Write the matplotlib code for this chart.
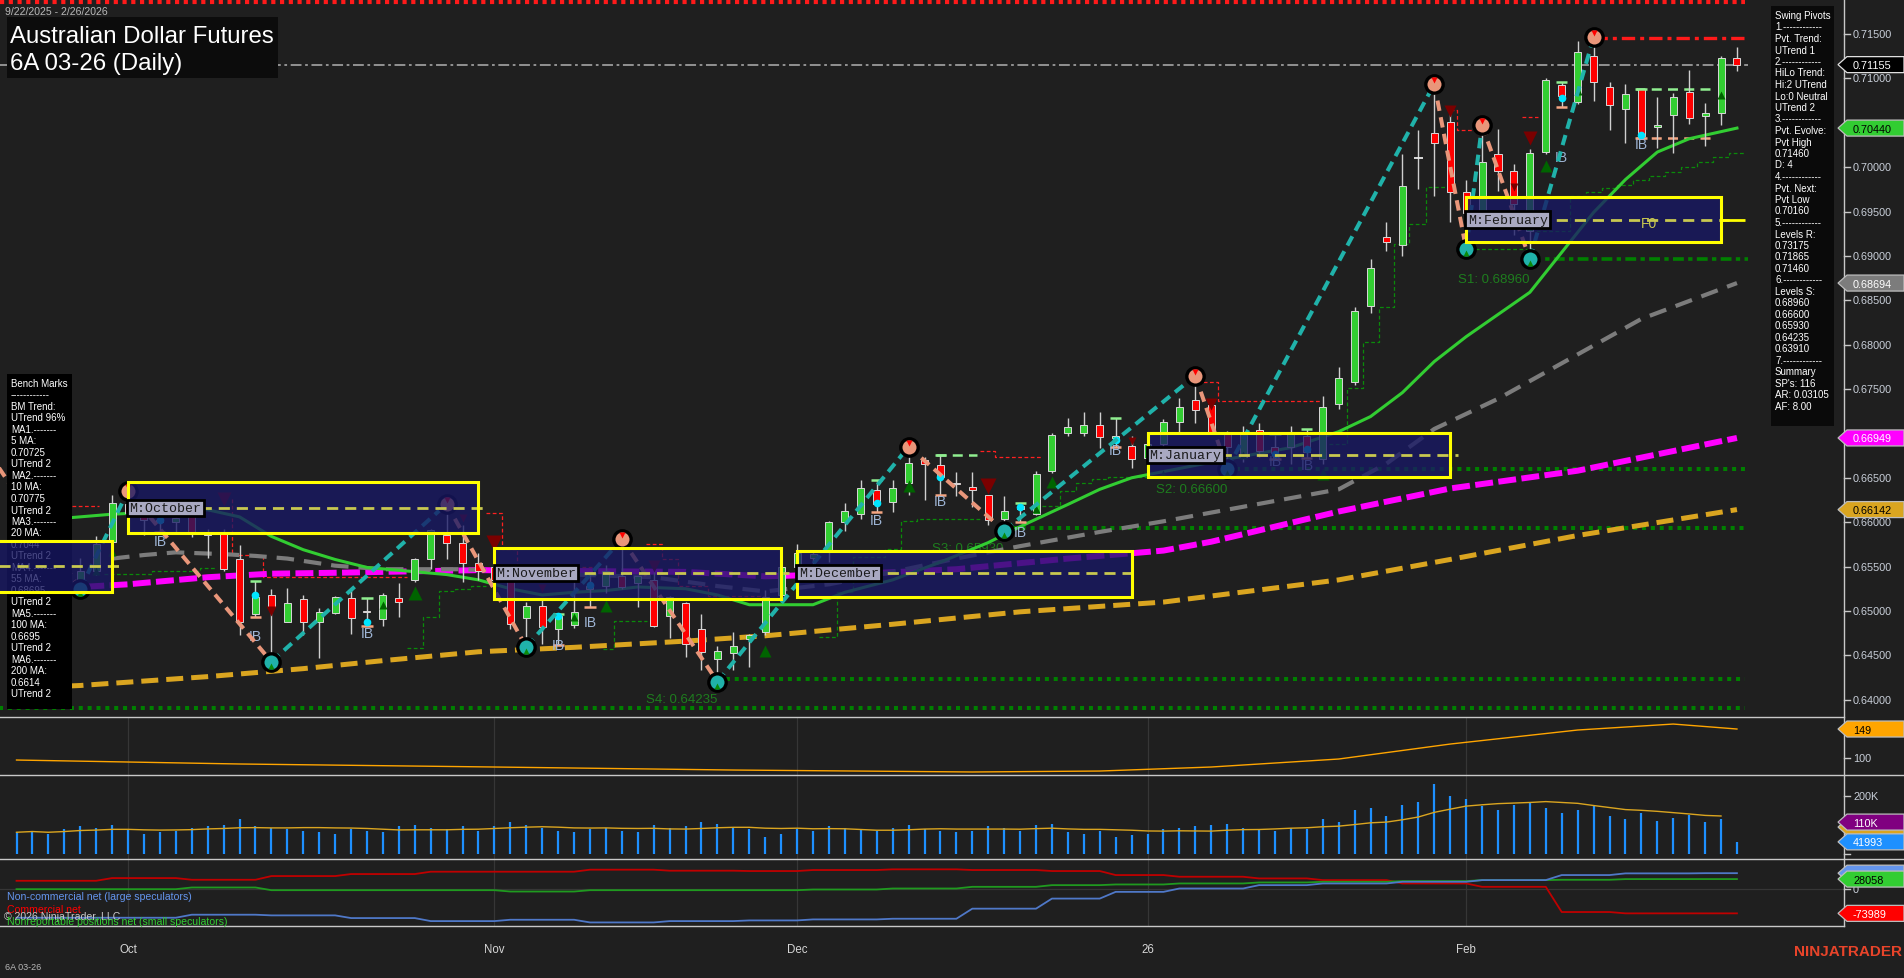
import numpy as np
import pandas as pd
import matplotlib
matplotlib.use("Agg")
import matplotlib.pyplot as plt
from matplotlib.patches import Rectangle, Polygon

plt.rcParams['font.family'] = ['Liberation Sans', 'DejaVu Sans']

# ------------------------------------------------------------------ data
holidays = ["2025-11-27", "2025-12-25", "2026-01-01", "2026-01-19", "2026-02-16"]
dates = pd.bdate_range("2025-09-22", "2026-02-26")
dates = dates[~dates.isin(pd.to_datetime(holidays))]

opens = [0.6600,0.6590,0.6570,0.6555,0.6535,0.6545,0.6578,0.6620,0.6610,0.6600,
         0.6600,0.6611,0.6588,0.6589,0.6559,0.6497,0.6518,0.6488,0.6514,0.6488,
         0.6498,0.6515,0.6500,0.6491,0.6515,0.6535,0.6559,0.6586,0.6576,0.6554,
         0.6550,0.6539,0.6492,0.6506,0.6480,0.6484,0.6525,0.6528,0.6539,0.6532,
         0.6535,0.6494,0.6509,0.6480,0.6446,0.6453,0.6468,0.6476,0.6518,0.6550,
         0.6560,0.6566,0.6600,0.6609,0.6636,0.6623,0.6644,0.6670,0.6664,0.6644,
         0.6640,0.6631,0.6604,0.6615,0.6609,0.6658,0.6700,0.6701,0.6709,0.6695,
         0.6686,0.6672,0.6688,0.6713,0.6738,0.6732,0.6700,0.6673,0.6704,0.6685,
         0.6685,0.6697,0.6671,0.6733,0.6758,0.6844,0.6921,0.6912,0.7010,0.7039,
         0.7051,0.6972,0.6935,0.7015,0.6996,0.6928,0.7017,0.7093,0.7073,0.7125,
         0.7090,0.7065,0.7088,0.7045,0.7059,0.7085,0.7058,0.7061,0.7123]
highs = [0.6610,0.6600,0.6585,0.6565,0.6560,0.6584,0.6631,0.6638,0.6617,0.6611,
         0.6611,0.6614,0.6592,0.6592,0.6574,0.6534,0.6525,0.6526,0.6518,0.6503,
         0.6517,0.6526,0.6515,0.6520,0.6531,0.6560,0.6592,0.6612,0.6597,0.6565,
         0.6560,0.6540,0.6510,0.6515,0.6496,0.6538,0.6542,0.6552,0.6576,0.6539,
         0.6544,0.6517,0.6510,0.6496,0.6460,0.6476,0.6474,0.6524,0.6555,0.6575,
         0.6569,0.6601,0.6622,0.6647,0.6647,0.6647,0.6680,0.6673,0.6676,0.6656,
         0.6657,0.6631,0.6629,0.6622,0.6658,0.6701,0.6717,0.6724,0.6724,0.6717,
         0.6697,0.6700,0.6716,0.6740,0.6760,0.6732,0.6703,0.6708,0.6712,0.6699,
         0.6708,0.6705,0.6742,0.6775,0.6842,0.6897,0.6938,0.7015,0.7042,0.7092,
         0.7065,0.6985,0.7045,0.7043,0.7004,0.7020,0.7100,0.7096,0.7142,0.7146,
         0.7096,0.7094,0.7088,0.7079,0.7083,0.7109,0.7072,0.7125,0.7135]
lows = [0.6580,0.6560,0.6545,0.6530,0.6527,0.6541,0.6575,0.6600,0.6585,0.6589,
        0.6589,0.6583,0.6560,0.6545,0.6473,0.6493,0.6447,0.6487,0.6473,0.6447,
        0.6496,0.6474,0.6483,0.6483,0.6493,0.6533,0.6547,0.6558,0.6533,0.6535,
        0.6525,0.6480,0.6465,0.6463,0.6462,0.6481,0.6504,0.6520,0.6525,0.6504,
        0.6482,0.6470,0.6448,0.6434,0.64235,0.6434,0.6437,0.6473,0.6510,0.6540,
        0.6535,0.6555,0.6590,0.6604,0.6611,0.6611,0.6631,0.6625,0.6631,0.6629,
        0.6617,0.6597,0.6593,0.6600,0.6608,0.6655,0.6697,0.6697,0.6684,0.6685,
        0.6661,0.6660,0.6670,0.6702,0.6712,0.6700,0.6660,0.6668,0.6673,0.6671,
        0.6665,0.6672,0.6666,0.6727,0.6755,0.6836,0.6905,0.6900,0.6975,0.6967,
        0.6938,0.6910,0.6930,0.6973,0.6924,0.6896,0.7015,0.7068,0.7071,0.7075,
        0.7042,0.7027,0.7033,0.7022,0.7016,0.7049,0.7024,0.7047,0.7108]
closes = [0.6590,0.6570,0.6555,0.6540,0.6545,0.6575,0.6622,0.6610,0.6602,0.6602,
          0.6605,0.6588,0.6586,0.6547,0.6487,0.6516,0.6504,0.6509,0.6487,0.6499,
          0.6516,0.6492,0.6499,0.6518,0.6510,0.6558,0.6591,0.6577,0.6554,0.6545,
          0.6535,0.6485,0.6506,0.6482,0.6494,0.6499,0.6528,0.6545,0.6527,0.6539,
          0.6483,0.6516,0.6463,0.6454,0.6455,0.6461,0.6473,0.6516,0.6550,0.6565,
          0.6564,0.6600,0.6613,0.6638,0.6621,0.6638,0.6667,0.6665,0.6651,0.6643,
          0.6636,0.6603,0.6613,0.6618,0.6654,0.6698,0.6707,0.6710,0.6696,0.6697,
          0.6671,0.6688,0.6713,0.6730,0.6726,0.6702,0.6685,0.6700,0.6680,0.6678,
          0.6699,0.6679,0.6730,0.6762,0.6838,0.6886,0.6916,0.6979,0.7010,0.7027,
          0.6972,0.6948,0.7006,0.6996,0.6959,0.7016,0.7098,0.7080,0.7130,0.7096,
          0.7070,0.7082,0.7035,0.7047,0.7079,0.7055,0.7061,0.7123,0.71155]

volume = [75000,80000,70000,85000,95000,90000,100000,
          85000,70000,75000,80000,90000,95000,100000,120000,95000,90000,85000,80000,75000,
          70000,85000,80000,75000,95000,100000,90000,85000,95000,80000,
          95000,110000,100000,90000,80000,75000,85000,90000,80000,75000,100000,90000,95000,
          110000,105000,90000,85000,60000,70000,
          85000,80000,95000,90000,85000,80000,90000,100000,85000,80000,75000,80000,95000,
          90000,80000,100000,105000,75000,70000,80000,60000,65000,
          70000,85000,90000,95000,100000,105000,90000,85000,80000,90000,85000,120000,110000,
          150000,160000,130000,170000,180000,240000,200000,
          190000,165000,150000,170000,180000,160000,140000,150000,165000,130000,120000,
          140000,115000,125000,135000,110000,120000,41993]
volume_ma_last = 110000

# moving averages (bar index, value)
ma20_x = [0, 6, 12, 14, 16, 18, 20, 22, 27, 29, 31, 33, 35, 37, 39, 42, 44, 46, 50, 52, 55, 58,
          61, 63, 66, 68, 70, 72, 76, 80, 83, 85, 87, 89, 91, 93, 95, 97, 99, 101, 103, 105, 108]
ma20_v = [0.6600, 0.6609, 0.6614, 0.6606, 0.6584, 0.6569, 0.6558, 0.6549, 0.6541, 0.6535, 0.6525,
          0.6518, 0.6521, 0.6523, 0.6527, 0.6525, 0.6518, 0.6507, 0.6507, 0.6521, 0.6535, 0.6555,
          0.6577, 0.6595, 0.6620, 0.6637, 0.6650, 0.6657, 0.6671, 0.6684, 0.6702, 0.6719, 0.6746,
          0.6781, 0.6809, 0.6834, 0.6859, 0.6904, 0.6949, 0.6986, 0.7017, 0.7032, 0.7044]
ma55_x = [6, 8, 10, 13, 15, 17, 20, 23, 28, 35, 40, 44, 47, 51, 55, 59, 63, 68, 72, 83, 86, 89, 93, 102, 108]
ma55_v = [0.6559, 0.6563, 0.6566, 0.6564, 0.6562, 0.6559, 0.6551, 0.6547, 0.6547, 0.6541, 0.6538,
          0.6528, 0.6522, 0.6530, 0.6544, 0.6559, 0.6573, 0.6589, 0.6601, 0.6637, 0.6666, 0.6705,
          0.6739, 0.6829, 0.68694]
ma100_x = [0, 4, 7, 12, 16, 20, 23, 29, 35, 42, 47, 53, 59, 66, 72, 75, 83, 90, 98, 108]
ma100_v = [0.6524, 0.6527, 0.6530, 0.6538, 0.6542, 0.6543, 0.6544, 0.6546, 0.6545, 0.6544, 0.6539,
           0.6542, 0.6547, 0.6559, 0.6568, 0.6578, 0.6612, 0.6638, 0.6658, 0.66949]
ma200_x = [0, 4, 12, 18, 23, 29, 35, 42, 47, 55, 63, 72, 83, 90, 98, 108]
ma200_v = [0.6413, 0.6416, 0.6426, 0.6435, 0.6444, 0.6454, 0.6459, 0.6466, 0.6472, 0.6485, 0.6499,
           0.6510, 0.6535, 0.6558, 0.6585, 0.66142]

# swing pivots (bar index, price), alternating high / low
piv_x = [-3, 4, 7, 16, 27, 32, 38, 44, 56, 62, 74, 76, 89, 91, 92, 95, 99]
piv_p = [0.6712, 0.65248, 0.66352, 0.64428, 0.66205, 0.64594, 0.65811, 0.64203, 0.66850, 0.65904,
         0.67650, 0.66599, 0.70937, 0.69078, 0.70470, 0.68966, 0.71463]

# support / resistance levels
levels_r = [0.73175, 0.71865, 0.71460]
levels_s = [0.68960, 0.66600, 0.65930, 0.64235, 0.63910]
levels_s_from = [95, 76, 62, 44, -2]
last_price = 0.71155

# monthly value-area boxes
box_month = ["2025-09", "2025-10", "2025-11", "2025-12", "2026-01", "2026-02"]
box_top = [0.65791, 0.66449, 0.65709, 0.65672, 0.67005, 0.69660]
box_bot = [0.65217, 0.65875, 0.65135, 0.65160, 0.66506, 0.69160]
box_mid = [0.65510, 0.66160, 0.65427, 0.65427, 0.66757, 0.69408]

# trailing stop step lines
green_trail = [([5.5, 8.5, 11.5, 12.5], [0.6542, 0.6545, 0.6548, 0.6548]),
               ([24.5, 25.5, 26.5, 27.5, 28.5, 29.5], [0.6458, 0.6493, 0.6522, 0.6525, 0.6528, 0.6528]),
               ([36.8, 37.5, 39.6], [0.6457, 0.6489, 0.6489]),
               ([50.4, 51.5, 52.5, 54.5, 55.5, 56.5, 60.5], [0.6471, 0.6521, 0.6561, 0.6570, 0.6601, 0.6604, 0.6604]),
               ([64.4, 65.5, 66.5, 67.5, 68.5, 71.8], [0.6618, 0.6635, 0.6644, 0.6649, 0.6651, 0.6651]),
               ([82.4, 83.5, 84.5, 85.5, 86.5, 87.4, 88.5, 89.9], [0.6688, 0.6751, 0.6803, 0.6842, 0.6913, 0.6936, 0.6978, 0.6978]),
               ([91.2, 94.8], [0.6908, 0.6908]),
               ([95, 97.5, 98.5, 99.5, 100.5, 101.5, 102.5, 103.5, 104.5, 105.5, 106.5, 107.5, 108.5],
                [0.6928, 0.6968, 0.6972, 0.6977, 0.6980, 0.6985, 0.6990, 0.6994, 0.7000, 0.7006, 0.7011, 0.7016, 0.7016])]
red_trail = [([3.5, 5.2], [0.6618, 0.6618]),
             ([13.5, 13.5, 15.5, 15.5, 24.5], [0.6626, 0.6563, 0.6563, 0.6538, 0.6538]),
             ([29.5, 30.5, 30.5, 31.4, 31.4, 36.4], [0.6610, 0.6610, 0.6570, 0.6570, 0.6550, 0.6550]),
             ([39.5, 40.5, 40.5, 41.5, 41.5, 43.4, 43.4, 46.9], [0.6575, 0.6575, 0.6559, 0.6559, 0.6528, 0.6528, 0.6517, 0.6517]),
             ([60.5, 61.4, 61.4, 64.4], [0.6680, 0.6680, 0.6673, 0.6673]),
             ([74.1, 75.4, 75.4, 81.8], [0.6758, 0.6758, 0.6736, 0.6736]),
             ([90.0, 90.4, 90.4, 91.4], [0.7064, 0.7064, 0.7042, 0.7042]),
             ([94.5, 95.5], [0.7057, 0.7057])]
ib_hi_lines = [(57.7, 60.3, 0.6676), (101.6, 106.3, 0.7088)]
ib_lo_lines = [(101.6, 106.3, 0.7033)]

# inside-bar annotations
ib_bars = [9, 15, 22, 34, 36, 54, 58, 63, 69, 79, 81, 97, 102]
ib_text_p = [0.6579, 0.6472, 0.6475, 0.6462, 0.6487, 0.6603, 0.6624, 0.6589, 0.6681, 0.6669, 0.6664, 0.7011, 0.7026]
ib_dot_p = [0.6603, 0.6518, 0.6487, 0.6494, 0.6529, 0.6622, 0.6651, 0.6617, 0.6693, 0.6677, 0.6682, 0.7078, 0.7036]

# signal triangles
dn_bars = [13, 16, 28, 30, 33, 40, 61, 70, 75, 90, 94, 95]
dn_p = [0.6626, 0.6500, 0.6605, 0.6577, 0.6526, 0.6551, 0.6641, 0.6692, 0.6733, 0.7063, 0.6978, 0.7033]
dn_size = [10, 7, 6, 11, 6, 8, 11, 6, 8, 8, 6, 10]
up_bars = [5, 6, 23, 25, 35, 37, 47, 56, 64, 65, 72, 77, 82, 96, 98, 107]
up_p = [0.6545, 0.6566, 0.6507, 0.6520, 0.6493, 0.6506, 0.6455, 0.6641, 0.6615, 0.6645, 0.6654, 0.6676, 0.6654, 0.7001, 0.7086, 0.7081]
up_size = [6, 6, 6, 10, 6, 8, 8, 8, 6, 8, 6, 6, 8, 8, 6, 6]

# oscillator panel (read at sample bars)
osc_x = [0, 14, 30, 45, 60, 68, 75, 83, 90, 98, 104, 108]
osc_v = [96.6, 89.9, 84.8, 79.7, 76.4, 78, 84.8, 98.3, 123.6, 147.3, 157.4, 149]

# COT weekly values (thousands of contracts), weeks starting on report Tuesday
cot_large = [-87, -87, -87, -78, -80, -88, -97, -93, -101, -97, -95, -92, -90, -60, -30, -10, 0, 10, 15, 20, 25, 40, 45, 45.601]
cot_comm = [23, 23, 31, 26, 37, 43, 50, 50, 56, 53, 52, 55, 57, 55, 52, 40, 35, 30, 25, 15, 5, -70, -74, -73.989]
cot_small = [-2, -2, -2, 3, -5, -5, -5, -9, -5, -5, -5, -3, 0, 5, 10, 12, 15, 18, 20, 22, 25, 26, 28, 28.058]

bench_lines = ["Bench Marks", "------------", "BM Trend:", "UTrend 96%", "MA1.-------", "5 MA:", "0.70725",
               "UTrend 2", "MA2.-------", "10 MA:", "0.70775", "UTrend 2", "MA3.-------", "20 MA:", "0.7044",
               "UTrend 2", "MA4.-------", "55 MA:", "0.68695", "UTrend 2", "MA5.-------", "100 MA:", "0.6695",
               "UTrend 2", "MA6.-------", "200 MA:", "0.6614", "UTrend 2"]
swing_lines = ["Swing Pivots", "1.------------", "Pvt. Trend:", "UTrend 1", "2.------------", "HiLo Trend:",
               "Hi:2 UTrend", "Lo:0 Neutral", "UTrend 2", "3.------------", "Pvt. Evolve:", "Pvt High",
               "0.71460", "D: 4", "4.------------", "Pvt. Next:", "Pvt Low", "0.70160", "5.------------",
               "Levels R:", "0.73175", "0.71865", "0.71460", "6.------------", "Levels S:", "0.68960",
               "0.66600", "0.65930", "0.64235", "0.63910", "7.------------", "Summary", "SP's: 116",
               "AR: 0.03105", "AF: 8.00"]

# ------------------------------------------------------------------ layout
W, H = 1904, 979
RIGHT = 1844
BG = '#1f1f1f'
XMIN, XMAX = -1.036, 114.72
n = len(closes)
idx = np.arange(n)

fig = plt.figure(figsize=(W / 100, H / 100), dpi=100)
fig.patch.set_facecolor(BG)

ov = fig.add_axes([0, 0, 1, 1], zorder=10)
ov.set_xlim(0, W)
ov.set_ylim(H, 0)
ov.axis('off')
ov.patch.set_alpha(0)


def add_ax(top, bottom, z=1):
    a = fig.add_axes([0, 1 - bottom / H, RIGHT / W, (bottom - top) / H], zorder=z)
    a.set_xlim(XMIN, XMAX)
    a.axis('off')
    return a


ax = add_ax(0, 718, 2)
ax.set_ylim(0.638051, 0.718944)
ax2 = add_ax(718, 776)
ax2.set_ylim(71.3, 169.3)
ax3 = add_ax(776, 860)
ax3.set_ylim(-17000, 272000)
ax4 = add_ax(860, 927)
ax4.set_ylim(-111.6, 87.8)


def ypix(a, v):
    return H - a.transData.transform((0, v))[1]


def xpix(a, v):
    return a.transData.transform((v, 0))[0]


# month starts
month_start = [i for i in range(1, n) if dates[i].month != dates[i - 1].month]
month_lbl = [(dates[i].strftime('%y') if dates[i].month == 1 else dates[i].strftime('%b')) for i in month_start]

for a in (ax2, ax3, ax4):
    for i in month_start:
        a.axvline(i, color='#363636', lw=0.9, zorder=0.5)
ax4.axhline(0, color='#363636', lw=0.9, zorder=0.5)

# ------------------------------------------------------------------ main panel
GREEN = '#32cd32'
RED = '#ff0000'
TEAL = '#20b2aa'
SALMON = '#e9967a'

ax.hlines(levels_r[1], XMIN, 108.5, color='#ff1a1a', lw=3.0, linestyles=(0, (1.0, 1.1)), zorder=1)
ax.hlines(levels_r[2], piv_x[-1], 108.7, color='#ff1a1a', lw=2.4, linestyles=(0, (4, 1.5, 1.2, 1.5)), zorder=1)
ax.hlines(last_price, XMIN, 108.7, color='#9a9a9a', lw=1.3, linestyles=(0, (6, 2, 1.5, 2)), zorder=1)
for lvl, st in zip(levels_s, levels_s_from):
    if lvl == levels_s[0]:
        ax.hlines(lvl, st, 108.7, color='#008000', lw=2.6, linestyles=(0, (3, 1.2, 1.2, 1.2)), zorder=1)
    else:
        ax.hlines(lvl, st, 108.5, color='#008000', lw=2.9, linestyles=(0, (1.0, 1.2)), zorder=1)
s_off = 20 * (ax.get_ylim()[1] - ax.get_ylim()[0]) / 718
for k in range(4):
    ax.text(levels_s_from[k] - 4.5, levels_s[k] - s_off, f"S{k + 1}: {levels_s[k]:.5f}", color='#1e7d1e',
            fontsize=9.5, va='center', ha='left', zorder=1.5)

for xs, ps in green_trail:
    ax.plot(xs, ps, drawstyle='steps-post', color='#0a8a0a', lw=0.9, ls=(0, (3, 2)), zorder=1.4)
for xs, ps in red_trail:
    ax.plot(xs, ps, color='#ff2020', lw=0.9, ls=(0, (3, 2)), zorder=1.4)
for x0, x1, p in ib_hi_lines:
    ax.hlines(p, x0, x1, color='#90ee90', lw=1.8, linestyles=(0, (4, 2.5)), zorder=1.4)
for x0, x1, p in ib_lo_lines:
    ax.hlines(p, x0, x1, color='#f4a582', lw=1.8, linestyles=(0, (4, 2.5)), zorder=1.4)

# moving averages
ax.plot(ma200_x, ma200_v, color='#daa520', lw=3.6, ls=(0, (3.4, 1.6)), zorder=2)
ax.plot(ma100_x, ma100_v, color='#ff00ff', lw=4.3, ls=(0, (3.0, 0.9)), zorder=2)
ax.plot(ma55_x, ma55_v, color='#7c7c7c', lw=3.0, ls=(0, (4.2, 2.4)), zorder=2)
ax.plot(ma20_x, ma20_v, color=GREEN, lw=2.2, zorder=2.1)

# candles
for i in range(n):
    o, h, l, c = opens[i], highs[i], lows[i], closes[i]
    ax.vlines(i, l, h, color='#cfcfcf', lw=1.0, zorder=3)
    if abs(c - o) < 0.00008:
        ax.hlines(c, i - 0.27, i + 0.27, color='#e8e8e8', lw=1.3, zorder=3.1)
    else:
        ax.add_patch(Rectangle((i - 0.22, min(o, c)), 0.44, abs(c - o), fc=GREEN if c > o else RED,
                               ec='#d8d8d8', lw=0.7, zorder=3.1))

# inside bars
for b, tp, dp in zip(ib_bars, ib_text_p, ib_dot_p):
    ax.hlines(highs[b], b - 0.35, b + 0.35, color='#90ee90', lw=1.8, zorder=3.2)
    ax.hlines(lows[b], b - 0.35, b + 0.35, color='#f4a582', lw=1.8, zorder=3.2)
    ax.plot(b, dp, 'o', color='#00e5ff', ms=5.5, mec='none', zorder=3.3)
    ax.text(b, tp, "IB", color='#9fb6d6', fontsize=10, ha='center', va='center', zorder=3.3)

for b, p, s in zip(dn_bars, dn_p, dn_size):
    ax.plot(b, p, 'v', color='#7a0000', ms=s, mec='none', zorder=3.4)
for b, p, s in zip(up_bars, up_p, up_size):
    ax.plot(b, p, '^', color='#006400', ms=s, mec='none', zorder=3.4)

# swing zigzag
for k in range(len(piv_x) - 1):
    up = piv_p[k + 1] > piv_p[k]
    ax.plot([piv_x[k], piv_x[k + 1]], [piv_p[k], piv_p[k + 1]], color=TEAL if up else SALMON,
            lw=2.9, ls=(0, (2.6, 1.6)), zorder=4, solid_capstyle='butt', dash_capstyle='butt')
for k in range(1, len(piv_x)):
    is_high = piv_p[k] > piv_p[k - 1]
    ax.plot(piv_x[k], piv_p[k], 'o', ms=12.5, mfc=SALMON if is_high else TEAL, mec='black', mew=2.4, zorder=4.5)
    if is_high:
        ax.plot(piv_x[k], piv_p[k] + 0.00045, 'v', color='red', ms=4, mec='none', zorder=4.6)
    else:
        ax.plot(piv_x[k], piv_p[k] - 0.00045, '^', color='#0a8a0a', ms=4, mec='none', zorder=4.6)

# benchmark panel (drawn between indicators and value boxes)
ax.add_patch(Rectangle((7, 375), 65, 335, transform=ov.transData, fc='black', ec='none', zorder=5))
for k, s in enumerate(bench_lines):
    ax.text(11, 384 + k * 11.5, s, transform=ov.transData, color='white', fontsize=7, va='center',
            ha='left', zorder=5.1)

# monthly boxes
month_of = dates.strftime('%Y-%m')
for m, t, b_, md in zip(box_month, box_top, box_bot, box_mid):
    ids = np.where(month_of == m)[0]
    if len(ids) == 0:
        continue
    x0 = ids[0] if ids[0] > 0 else -2.5
    x1 = ids[-1] if ids[-1] < n - 1 else ids[-1] - 1
    ax.add_patch(Rectangle((x0, b_), x1 - x0, t - b_, fc='#181865', ec='none', alpha=0.78, zorder=6))
    ax.add_patch(Rectangle((x0, b_), x1 - x0, t - b_, fc='none', ec='#ffff00', lw=2.2, zorder=6.2))
    ax.hlines(md, x0, x1 + 0.5, color='#c8c850', lw=2.0, linestyles=(0, (4, 2.5)), zorder=6.1)
    if ids[0] > 0:
        name = "M:" + pd.Timestamp(m + "-01").strftime('%B')
        ax.text(x0 + 0.1, md, name, color='#1a1a1a', fontsize=9.5, family='Liberation Mono',
                va='center', ha='left', zorder=7,
                bbox=dict(boxstyle='square,pad=0.18', fc='#a9a9c2', ec='black', lw=2.0))
    if m == box_month[-1]:
        ax.hlines(md, x1, n - 0.5, color='#ffff00', lw=2.0, zorder=6.2)
        ax.text((x0 + x1) / 2 + 3.5, md - 0.0004, "F0", color='#c8c850', fontsize=10, ha='center',
                va='center', zorder=6.3)

# ------------------------------------------------------------------ oscillator panel
ax2.plot(osc_x, osc_v, color='#ffa500', lw=1.0, zorder=2)

# ------------------------------------------------------------------ volume panel
ax3.vlines(idx, 0, volume, color='#1e90ff', lw=1.6, zorder=2)
vol_ma = pd.Series(volume, dtype=float).rolling(10, min_periods=1).mean()
ax3.plot(idx[:-1], vol_ma[:-1], color='#daa520', lw=1.0, zorder=2.5)

# ------------------------------------------------------------------ COT panel
wk = (dates - pd.Timedelta(days=1)).to_period('W')
wk_codes = pd.factorize(wk)[0]
cl = np.array(cot_large)[wk_codes]
cc = np.array(cot_comm)[wk_codes]
cs = np.array(cot_small)[wk_codes]
ax4.plot(idx, cc, color='#c00000', lw=1.3, zorder=2)
ax4.plot(idx, cs, color='#1f9a1f', lw=1.3, zorder=2)
ax4.plot(idx, cl, color='#4f78c8', lw=1.3, zorder=2)

# ------------------------------------------------------------------ overlay decorations
LC = '#c8c8c8'
ov.plot([RIGHT, RIGHT], [0, 927], color=LC, lw=1.0)
for yy, x1 in [(718, RIGHT), (776, W), (860, W), (927, RIGHT)]:
    ov.plot([0, x1], [yy, yy], color=LC, lw=1.0)


def flag(y, fc, tc, txt, ec='#bdbdbd'):
    ov.add_patch(Polygon([(1838, y), (1847, y - 8), (1904, y - 8), (1904, y + 8), (1847, y + 8)],
                         closed=True, fc=fc, ec=ec, lw=0.9, zorder=20))
    ov.text(1853, y + 0.5, txt, color=tc, fontsize=7.8, va='center', ha='left', zorder=21)


main_flags = [(closes[-1], 'black', 'white', '#e0e0e0'),
              (ma20_v[-1], GREEN, 'black', '#bdbdbd'),
              (ma55_v[-1], '#7c7c7c', 'white', '#bdbdbd'),
              (ma100_v[-1], '#ff00ff', 'white', '#bdbdbd'),
              (ma200_v[-1], '#daa520', 'black', '#bdbdbd')]
flag_y = [ypix(ax, v) for v, _, _, _ in main_flags]

TICKC = '#c9cfd9'
for v in np.arange(0.640, 0.7151, 0.005):
    y = ypix(ax, v)
    ov.plot([RIGHT, RIGHT + 6], [y, y], color=LC, lw=1)
    if min(abs(y - fy) for fy in flag_y) > 10:
        ov.text(RIGHT + 9, y, f"{v:.5f}", color=TICKC, fontsize=7.8, va='center', ha='left')
for a, v, s in [(ax2, 100, "100"), (ax3, 200000, "200K"), (ax4, 0, "0")]:
    y = ypix(a, v)
    ov.plot([RIGHT, RIGHT + 6], [y, y], color=LC, lw=1)
    ov.text(RIGHT + 9, y, s, color=TICKC, fontsize=7.8, va='center', ha='left')
ov.plot([RIGHT, RIGHT + 6], [ypix(ax3, 0)] * 2, color=LC, lw=1)

for (v, fc, tc, ec), y in zip(main_flags, flag_y):
    flag(y, fc, tc, f"{v:.5f}", ec=ec)
flag(ypix(ax2, osc_v[-1]), '#ffa500', 'black', f"{osc_v[-1]:.0f}")
flag(ypix(ax3, volume_ma_last) + 5, '#daa520', 'black', "")
flag(ypix(ax3, volume_ma_last), '#800080', 'white', f"{volume_ma_last // 1000}K")
flag(ypix(ax3, volume[-1]), '#1e90ff', 'white', f"{volume[-1]}")
flag(ypix(ax4, cot_large[-1]), '#6495ed', 'white', "")
flag(ypix(ax4, cot_small[-1]), '#32cd32', 'black', f"{cot_small[-1] * 1000:.0f}")
flag(ypix(ax4, cot_comm[-1]), '#ff0000', 'white', f"{cot_comm[-1] * 1000:.0f}")

# x axis labels
for i, s in zip(month_start, month_lbl):
    ov.text(xpix(ax, i), 950, s, color='#d6d6d6', fontsize=8.3, ha='center', va='center')

# title block
ov.text(5, 12, f"{dates[0].month}/{dates[0].day}/{dates[0].year} - {dates[-1].month}/{dates[-1].day}/{dates[-1].year}",
        color='#b8b8b8', fontsize=7.6, va='center', ha='left')
ov.add_patch(Rectangle((7, 18), 271, 61, fc='#0c0c0c', ec='none', zorder=15))
ov.text(10, 43, "Australian Dollar Futures", color='white', fontsize=17.3, va='baseline', ha='left', zorder=16)
ov.text(10, 70, "6A 03-26 (Daily)", color='white', fontsize=17.3, va='baseline', ha='left', zorder=16)

# swing pivots panel
ov.add_patch(Rectangle((1771, 7), 63, 420, fc='#0a0a0a', ec='none', zorder=15))
for k, s in enumerate(swing_lines):
    ov.text(1775, 16 + k * 11.5, s, color='white', fontsize=7, va='center', ha='left', zorder=16)

# COT legend (overlapping as in the original)
ov.text(7, 897, "Non-commercial net (large speculators)", color='#6495ed', fontsize=7.6, va='center', ha='left')
ov.text(7, 910, "Commercial net", color='#ff0000', fontsize=7.6, va='center', ha='left')
ov.text(4, 917, "\u00a9 2026 NinjaTrader, LLC", color='#c8c8c8', fontsize=7.6, va='center', ha='left')
ov.text(7, 922, "Nonreportable positions net (small speculators)", color='#32cd32', fontsize=7.6,
        va='center', ha='left')

ov.text(5, 968, "6A 03-26", color='#b8b8b8', fontsize=6.5, va='center', ha='left')
ov.text(1902, 952, "NINJATRADER", color='#e8442a', fontsize=11, fontweight='bold', va='center', ha='right')

fig.savefig("out.png", dpi=100, facecolor=BG)
